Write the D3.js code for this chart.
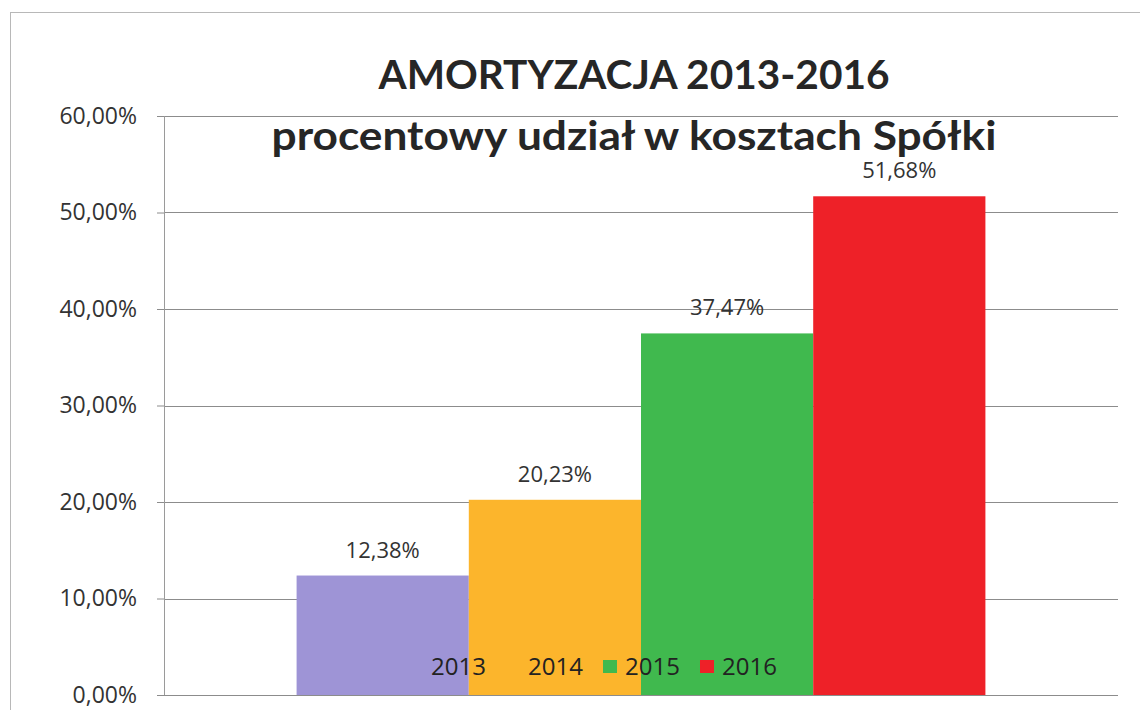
<!DOCTYPE html>
<html>
<head>
<meta charset="utf-8">
<script src="https://cdn.jsdelivr.net/npm/d3@7"></script>
<style>
  body { margin: 0; background: #fff; }
  text { font-family: "Open Sans", Lato, sans-serif; }
</style>
</head>
<body>
<div id="chart"></div>
<script>
// chart data
var years = ["2013", "2014", "2015", "2016"];
var shares = [12.38, 20.23, 37.47, 51.68];
var yTicks = [0, 10, 20, 30, 40, 50, 60];
var colors = ["#9e94d6", "#fcb52c", "#40b94e", "#ee2128"];
var titleLines = ["AMORTYZACJA 2013-2016", "procentowy udział w kosztach Spółki"];

var width = 1140;
var height = 710;
var margin = { top: 116, right: 22, bottom: 15, left: 164 };
var plotW = width - margin.left - margin.right;
var plotH = height - margin.top - margin.bottom;

var fmt = function (v) { return v.toFixed(2).replace(".", ",") + "%"; };

var svg = d3.select("#chart")
    .append("svg")
    .attr("width", width)
    .attr("height", height);

svg.append("rect")
    .attr("width", width).attr("height", height)
    .attr("fill", "#fff");

// outer frame of the chart object
svg.append("rect")
    .attr("x", 10.5).attr("y", 12.5)
    .attr("width", width).attr("height", height)
    .attr("fill", "none")
    .attr("stroke", "#b8b8b8")
    .attr("stroke-width", 1);

var g = svg.append("g")
    .attr("transform", "translate(" + margin.left + "," + margin.top + ")");

var y = d3.scaleLinear().domain([0, 60]).range([plotH, 0]);
var x = d3.scaleBand().domain(years).range([0, plotW])
    .paddingInner(0).paddingOuter(0.77);

// gridlines
g.selectAll(".grid")
    .data(yTicks)
    .enter()
    .append("line")
    .attr("class", "grid")
    .attr("x1", 0).attr("x2", plotW)
    .attr("y1", function (d) { return Math.round(y(d)) + 0.5; })
    .attr("y2", function (d) { return Math.round(y(d)) + 0.5; })
    .attr("stroke", "#8c8c8c")
    .attr("stroke-width", 1);

// y axis
var yAxis = d3.axisLeft(y)
    .tickValues(yTicks)
    .tickSize(7)
    .tickPadding(20)
    .tickFormat(fmt);

var ya = g.append("g").call(yAxis);
ya.select(".domain").attr("stroke", "#9a9a9a").attr("d", "M0.5,0V" + plotH);
ya.selectAll(".tick line").attr("stroke", "#8c8c8c");
ya.selectAll(".tick text")
    .attr("fill", "#333")
    .style("font-size", "23px")
    .style("font-family", "'Open Sans', sans-serif");

// bars
g.selectAll(".bar")
    .data(shares)
    .enter()
    .append("rect")
    .attr("class", "bar")
    .attr("x", function (d, i) { return x(years[i]); })
    .attr("width", x.bandwidth())
    .attr("y", function (d) { return y(d); })
    .attr("height", function (d) { return plotH - y(d); })
    .attr("fill", function (d, i) { return colors[i]; });

// data labels
g.selectAll(".lbl")
    .data(shares)
    .enter()
    .append("text")
    .attr("class", "lbl")
    .attr("x", function (d, i) { return x(years[i]) + x.bandwidth() / 2; })
    .attr("y", function (d) { return y(d) - 18; })
    .attr("text-anchor", "middle")
    .attr("fill", "#333")
    .style("font-size", "22px")
    .text(fmt);

// title
svg.selectAll(".title")
    .data(titleLines)
    .enter()
    .append("text")
    .attr("class", "title")
    .attr("x", 634)
    .attr("y", function (d, i) { return 89 + i * 61; })
    .attr("text-anchor", "middle")
    .attr("fill", "#262626")
    .style("font-size", "40px")
    .style("font-weight", "bold")
    .style("font-family", "Lato, sans-serif")
    .attr("textLength", function (d, i) { return i === 0 ? 511 : 725; })
    .attr("lengthAdjust", "spacingAndGlyphs")
    .text(function (d) { return d; });

// legend (sits over the bars, bottom of plot)
var legend = svg.append("g").attr("transform", "translate(409,660)");
var item = legend.selectAll(".leg")
    .data(years)
    .enter()
    .append("g")
    .attr("class", "leg")
    .attr("transform", function (d, i) { return "translate(" + (i * 97) + ",0)"; });

item.append("rect")
    .attr("width", 14).attr("height", 13)
    .attr("fill", function (d, i) { return colors[i]; });

item.append("text")
    .attr("x", 22).attr("y", 15)
    .attr("fill", "#222")
    .style("font-size", "24px")
    .text(function (d) { return d; });
</script>
</body>
</html>
